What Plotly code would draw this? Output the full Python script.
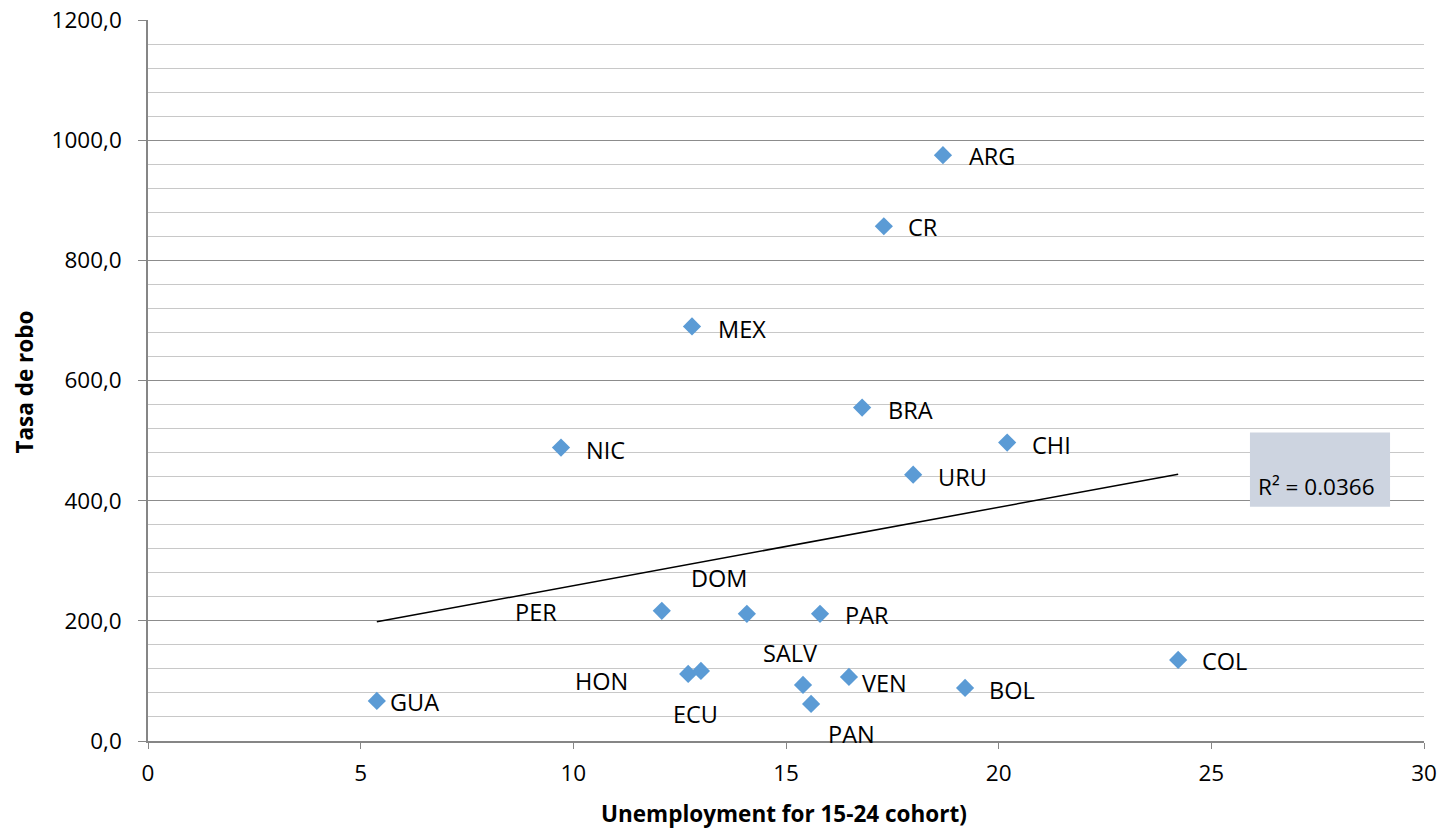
import numpy as np
import plotly.graph_objects as go

# Youth unemployment (15-24) vs robbery rate by country
countries = ["ARG", "CR", "MEX", "BRA", "CHI", "NIC", "URU", "PER", "DOM",
             "PAR", "COL", "HON", "ECU", "SALV", "VEN", "PAN", "BOL", "GUA"]
unemployment = [18.69, 17.30, 12.79, 16.79, 20.20, 9.71, 17.99, 12.08, 14.08,
                15.80, 24.22, 12.70, 13.00, 15.40, 16.48, 15.59, 19.21, 5.38]
robbery_rate = [975.0, 856.7, 690.0, 555.0, 496.7, 488.3, 443.3, 216.7, 211.7,
                211.7, 135.0, 111.7, 116.7, 93.3, 106.7, 61.7, 88.3, 66.7]

# label offsets in pixels (dx, dy) relative to each marker, dy positive = down
label_offsets = {
    "ARG": (49, 1), "CR": (39, 1), "MEX": (50, 3), "BRA": (48, 2),
    "CHI": (44, 2), "NIC": (44, 2), "URU": (49, 2), "PER": (-126, 1),
    "DOM": (-28, -36), "PAR": (47, 1), "COL": (46, 1), "HON": (-87, 7),
    "ECU": (-5, 43), "SALV": (-13, -32), "VEN": (36, 6), "PAN": (40, 30),
    "BOL": (47, 2), "GUA": (38, 1),
}

y_ticks = [0, 200, 400, 600, 800, 1000, 1200]
y_ticktext = [f"{v:.1f}".replace(".", ",") for v in y_ticks]
x_ticks = [0, 5, 10, 15, 20, 25, 30]

FONT = "Open Sans"
TICK_SIZE = 22.5
LABEL_SIZE = 23.5
TITLE_SIZE = 22.5

# linear least-squares trend
x = np.array(unemployment)
y = np.array(robbery_rate)
slope, intercept = np.polyfit(x, y, 1)
pred = slope * x + intercept
r2 = 1 - np.sum((y - pred) ** 2) / np.sum((y - y.mean()) ** 2)
trend_x = [x.min(), x.max()]
trend_y = [slope * v + intercept for v in trend_x]

fig = go.Figure()
fig.add_trace(go.Scatter(
    x=trend_x, y=trend_y, mode="lines",
    line=dict(color="black", width=1.5), showlegend=False, hoverinfo="skip",
))
fig.add_trace(go.Scatter(
    x=unemployment, y=robbery_rate, mode="markers",
    marker=dict(symbol="diamond", size=14, color="#5b9bd5"),
    text=countries, showlegend=False,
))

for c, xv, yv in zip(countries, unemployment, robbery_rate):
    dx, dy = label_offsets[c]
    fig.add_annotation(
        x=xv, y=yv, text=c, showarrow=False, xshift=dx, yshift=-dy,
        font=dict(family=FONT, size=LABEL_SIZE, color="#000000"),
    )

# R² label box
fig.add_shape(type="rect", xref="paper", yref="paper",
              x0=0.8636, x1=0.9734, y0=0.325, y1=0.4278,
              fillcolor="#cdd4e0", line=dict(width=0), layer="above")
fig.add_annotation(xref="paper", yref="paper", x=0.868, y=0.3528,
                   xanchor="left", yanchor="middle", showarrow=False,
                   text=f"R² = {r2:.4f}",
                   font=dict(family=FONT, size=LABEL_SIZE - 1, color="#000000"))

# axis titles
fig.add_annotation(xref="paper", yref="paper", x=0.4984, y=-0.100,
                   xanchor="center", yanchor="middle", showarrow=False,
                   text="<b>Unemployment for 15-24 cohort)</b>",
                   font=dict(family=FONT, size=TITLE_SIZE, color="#000000"))
fig.add_annotation(xref="paper", yref="paper", x=-0.0964, y=0.4986,
                   xanchor="center", yanchor="middle", showarrow=False,
                   textangle=-90, text="<b>Tasa de robo</b>",
                   font=dict(family=FONT, size=TITLE_SIZE, color="#000000"))

fig.update_layout(
    width=1443, height=830,
    margin=dict(l=148, r=19, t=20, b=89),
    paper_bgcolor="white", plot_bgcolor="white",
    font=dict(family=FONT, size=TICK_SIZE, color="#000000"),
    xaxis=dict(
        range=[0, 30], tickvals=x_ticks, ticktext=[str(v) for v in x_ticks],
        showgrid=False, zeroline=False, showline=True, linecolor="#868686",
        linewidth=1.5, ticks="outside", ticklen=6, tickcolor="#868686",
        tickfont=dict(family=FONT, size=TICK_SIZE), ticklabelstandoff=5,
        automargin=False,
    ),
    yaxis=dict(
        range=[0, 1200], tickvals=y_ticks, ticktext=y_ticktext,
        showgrid=True, gridcolor="#8c8c8c", gridwidth=1.2,
        zeroline=False, showline=True, linecolor="#868686", linewidth=1.5,
        ticks="outside", ticklen=8, tickcolor="#868686",
        tickfont=dict(family=FONT, size=TICK_SIZE), ticklabelstandoff=12,
        minor=dict(dtick=40, showgrid=True, gridcolor="#c8c8c8", gridwidth=1),
        automargin=False,
    ),
)

fig.write_html("out.html")
